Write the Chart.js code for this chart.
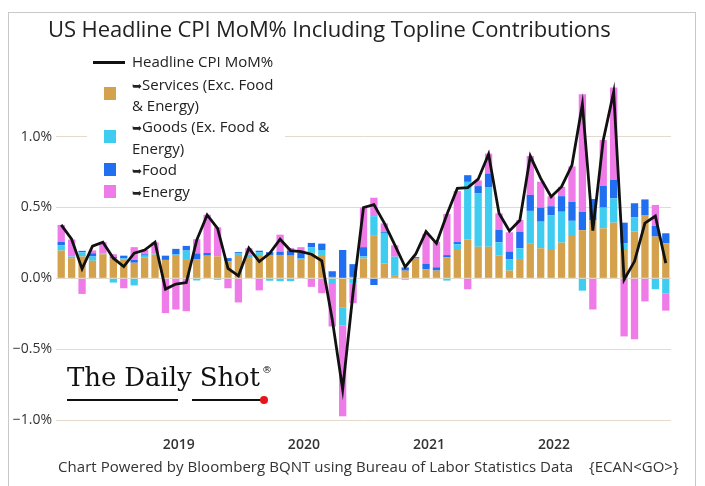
<!DOCTYPE html>
<html>
<head>
<meta charset="utf-8">
<script src="https://cdn.jsdelivr.net/npm/chart.js@4.4.1/dist/chart.umd.min.js"></script>
<style>
  html,body{margin:0;padding:0;background:#fff;}
  body{width:705px;height:486px;position:relative;overflow:hidden;font-family:'Open Sans',sans-serif;color:#222;}
  #frame{position:absolute;left:8px;top:12px;width:688px;height:480px;border:1px solid #c9c9c9;box-sizing:border-box;}
  #c{position:absolute;left:0;top:0;}
  #title{position:absolute;left:48px;top:13px;font-size:22px;color:#222;white-space:nowrap;letter-spacing:-0.1px;}
  #legend{position:absolute;left:87px;top:50px;width:198px;height:152px;background:#fff;}
  .lt{position:absolute;left:45px;font-size:15px;line-height:19.5px;white-space:nowrap;color:#222;}
  .sq{position:absolute;left:17px;width:12px;height:13px;}
  .ar{font-family:'DejaVu Sans';font-size:12px;}
  #footer{position:absolute;left:58px;top:456px;font-size:15px;color:#333;white-space:nowrap;letter-spacing:0.05px;}
  #ecan{position:absolute;left:589px;top:456px;font-size:15px;color:#333;white-space:nowrap;}
  #logo{position:absolute;left:67px;top:362px;font-family:'DejaVu Serif',serif;font-size:26px;color:#111;white-space:nowrap;letter-spacing:-0.1px;}
  .ul{position:absolute;height:2px;background:#111;top:399px;}
</style>
</head>
<body>
<canvas id="c" width="705" height="486"></canvas>
<div id="frame"></div>
<div id="title">US Headline CPI MoM% Including Topline Contributions</div>
<div id="legend">
  <div style="position:absolute;left:6px;top:11px;width:32px;height:2.5px;background:#111;"></div>
  <div class="lt" style="top:2px;">Headline CPI MoM%</div>
  <div class="sq" style="top:37px;background:#D4A24C;"></div>
  <div class="lt" style="top:24.5px;"><span class="ar">➥</span>Services (Exc. Food<br>&amp; Energy)</div>
  <div class="sq" style="top:80px;background:#3ECDF0;"></div>
  <div class="lt" style="top:67px;"><span class="ar">➥</span>Goods (Ex. Food &amp;<br>Energy)</div>
  <div class="sq" style="top:113px;background:#1F6FF0;"></div>
  <div class="lt" style="top:109.5px;"><span class="ar">➥</span>Food</div>
  <div class="sq" style="top:135px;background:#EE7BE8;"></div>
  <div class="lt" style="top:132px;"><span class="ar">➥</span>Energy</div>
</div>
<div id="logo">The Daily Shot<sup style="font-size:10px;vertical-align:13px;margin-left:2px;">®</sup></div>
<div class="ul" style="left:67px;width:111px;"></div>
<div class="ul" style="left:192px;width:70px;"></div>
<div style="position:absolute;left:260px;top:396px;width:8px;height:8px;border-radius:50%;background:#e8141c;"></div>
<div id="footer">Chart Powered by Bloomberg BQNT using Bureau of Labor Statistics Data</div>
<div id="ecan">{ECAN&lt;GO&gt;}</div>
<script>
const categories = [
 '2018-01','2018-02','2018-03','2018-04','2018-05','2018-06','2018-07','2018-08','2018-09','2018-10','2018-11','2018-12',
 '2019-01','2019-02','2019-03','2019-04','2019-05','2019-06','2019-07','2019-08','2019-09','2019-10','2019-11','2019-12',
 '2020-01','2020-02','2020-03','2020-04','2020-05','2020-06','2020-07','2020-08','2020-09','2020-10','2020-11','2020-12',
 '2021-01','2021-02','2021-03','2021-04','2021-05','2021-06','2021-07','2021-08','2021-09','2021-10','2021-11','2021-12',
 '2022-01','2022-02','2022-03','2022-04','2022-05','2022-06','2022-07','2022-08','2022-09','2022-10','2022-11'
];
const headline = [0.377,0.276,0.067,0.227,0.255,0.142,0.083,0.177,0.2,0.255,-0.076,-0.04,
 -0.03,0.27,0.447,0.353,0.07,0.018,0.213,0.118,0.177,0.276,0.196,0.189,
 0.17,0.123,-0.29,-0.785,-0.1,0.5,0.52,0.39,0.236,0.08,0.17,0.33,
 0.247,0.45,0.635,0.64,0.70,0.877,0.46,0.335,0.41,0.863,0.705,0.576,
 0.647,0.80,1.229,0.337,0.975,1.315,-0.01,0.12,0.39,0.44,0.107];
const services = [0.196,0.142,0.154,0.124,0.17,0.14,0.135,0.11,0.145,0.167,0.13,0.158,
 0.136,0.136,0.16,0.155,0.12,0.165,0.143,0.165,0.165,0.165,0.16,0.13,
 0.18,0.165,0.01,-0.204,0.01,0.14,0.305,0.105,0.023,0.054,0.14,0.063,
 0.055,0.148,0.2,0.275,0.223,0.223,0.16,0.055,0.137,0.248,0.212,0.2,
 0.252,0.306,0.34,0.41,0.353,0.393,0.2,0.33,0.447,0.295,0.248];
const goods = [0.038,0.012,0.03,0.03,0.005,-0.03,0.005,-0.05,0.015,0.01,0.0,0.01,
 0.06,-0.015,0.0,-0.01,0.0,0.01,0.023,0.02,-0.017,-0.02,-0.02,0.01,
 0.04,0.035,-0.04,-0.13,-0.035,0.015,0.134,0.216,0.13,0.0,0.0,0.0,
 0.0,-0.016,0.04,0.406,0.376,0.418,0.094,0.08,0.075,0.228,0.188,0.246,
 0.218,0.1,-0.087,0.0,0.146,0.171,0.047,0.1,0.0,-0.077,-0.106];
const food = [0.023,0.0,0.01,0.023,0.0,0.01,0.02,0.02,0.01,0.0,0.03,0.04,
 0.033,0.04,0.019,0.0,0.023,0.01,0.0,0.01,0.02,0.023,0.035,0.04,
 0.03,0.045,0.04,0.2,0.09,0.065,-0.047,0.007,0.0,0.023,0.01,0.04,
 0.023,0.016,0.016,0.047,0.052,0.099,0.087,0.054,0.117,0.113,0.099,0.063,
 0.11,0.134,0.13,0.15,0.153,0.13,0.146,0.1,0.11,0.075,0.07];
const energy = [0.12,0.12,-0.11,0.02,0.08,0.02,-0.07,0.09,0.03,0.077,-0.245,-0.22,
 -0.232,0.1,0.27,0.205,-0.07,-0.17,0.047,-0.085,0.0,0.12,0.02,0.04,
 -0.06,-0.105,-0.30,-0.64,-0.14,0.28,0.13,0.06,0.08,-0.01,0.0,0.21,
 0.18,0.29,0.36,-0.077,0.04,0.14,0.117,0.136,0.082,0.275,0.183,0.07,
 0.066,0.25,0.83,-0.22,0.324,0.653,-0.41,-0.43,-0.163,0.148,-0.122];
const yTicks = [-1.0,-0.5,0.0,0.5,1.0];
const yearLabels = ['2019','2020','2021','2022'];

Chart.defaults.font.family = "'Open Sans', sans-serif";
const barDs = (label, data, color) => ({
  type:'bar', label, data, backgroundColor:color, borderWidth:0,
  stack:'contrib', order:1, barPercentage:0.7, categoryPercentage:1.0
});
new Chart(document.getElementById('c'), {
  data: {
    labels: categories,
    datasets: [
      {type:'line', label:'Headline CPI MoM%', data:headline, borderColor:'#111', borderWidth:2.8,
       pointRadius:0, tension:0, fill:false, order:0, stack:'line'},
      barDs('Services (Exc. Food & Energy)', services, '#D4A24C'),
      barDs('Goods (Ex. Food & Energy)', goods, '#3ECDF0'),
      barDs('Food', food, '#1F6FF0'),
      barDs('Energy', energy, '#EE7BE8')
    ]
  },
  options: {
    responsive:false, animation:false, devicePixelRatio:1,
    layout:{padding:{top:80,right:34,bottom:26,left:0}},
    plugins:{legend:{display:false}, tooltip:{enabled:false}, title:{display:false}},
    scales:{
      x:{
        stacked:true, offset:true,
        grid:{display:false, drawTicks:false}, border:{display:false},
        afterFit:(s)=>{s.height=40;},
        ticks:{autoSkip:false, maxRotation:0, minRotation:0, padding:17, labelOffset:-7.5,
          color:'#333', font:{size:14, weight:'600'},
          callback:function(v,i){const c=categories[i]; const y=c.slice(0,4);
            return (c.endsWith('-01') && yearLabels.includes(y)) ? y : '';}}
      },
      y:{
        stacked:true, min:-1.0, max:1.4,
        afterFit:(s)=>{s.width=56;},
        afterBuildTicks:(s)=>{s.ticks=yTicks.map(v=>({value:v}));},
        grid:{color:'#e3dacd', lineWidth:1, drawTicks:false}, border:{display:false},
        ticks:{padding:4, color:'#333', font:{size:14},
          callback:(v)=> (v<0?'\u2212':'') + Math.abs(v).toFixed(1) + '%'}
      }
    }
  }
});
</script>
</body>
</html>
